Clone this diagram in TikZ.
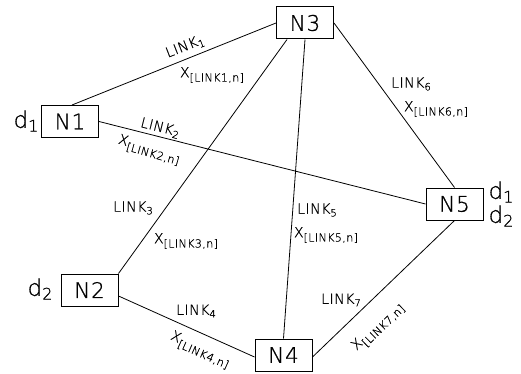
\documentclass[tikz,border=0pt]{standalone}
\usepackage{fontspec}
\setsansfont{DejaVu Sans ExtraLight}[LetterSpace=4,FakeBold=0.8]
\usetikzlibrary{calc}
\newcommand{\lnk}[1]{LINK\raisebox{-0.35ex}{\fontsize{10}{10}\selectfont #1}}
\newcommand{\xv}[1]{X\raisebox{-0.55ex}{\fontsize{11}{11}\selectfont [LINK#1,n]}}
\newcommand{\dv}[1]{d\raisebox{-0.3ex}{\fontsize{16}{16}\selectfont #1}}
\begin{document}
\begin{tikzpicture}[x=1pt,y=-1pt,font=\sffamily,
  netnode/.style={draw,line width=1pt,minimum width=57pt,minimum height=32pt,inner sep=0pt,
    font=\sffamily\fontsize{21.5}{21.5}\selectfont},
  link/.style={line width=0.8pt},
  lbl/.style={inner sep=0pt,font=\sffamily\fontsize{14}{14}\selectfont},
  xlbl/.style={inner sep=0pt,font=\sffamily\fontsize{14}{14}\selectfont},
  dlbl/.style={inner sep=0pt,font=\sffamily\fontsize{23}{23}\selectfont}]
\useasboundingbox (0,0) rectangle (521,374);
% nodes
\node[netnode] (n1) at (70,121.5) {N1};
\node[netnode] (n3) at (305,23) {N3};
\node[netnode] (n2) at (89.5,290) {N2};
\node[netnode] (n4) at (283.5,355) {N4};
\node[netnode] (n5) at (454.5,204) {N5};
% demands
\node[dlbl] (d1a) at (26,121) {\dv{1}};
\node[dlbl] (d2a) at (40,289) {\dv{2}};
\node[dlbl] (d1b) at (501,192) {\dv{1}};
\node[dlbl] (d2b) at (501,216) {\dv{2}};
% links
\draw[link] ($(n1.north)+(2,0)$) -- (n3.west);
\draw[link] (n1.east) -- (n5.west);
\draw[link] ($(n3.south)+(-18,0)$) -- (n2.north east);
\draw[link] (n3.south) -- (n4.north);
\draw[link] (n3.east) -- (n5.north);
\draw[link] ($(n2.east)+(0,6)$) -- ($(n4.west)+(0,2)$);
\draw[link] (n5.south) -- ($(n4.east)+(0,2)$);
% link labels
\node[lbl,rotate=21.5] (l1) at (185,47) {\lnk{1}};
\node[xlbl] (x1) at (212,75) {\xv{1}};
\node[lbl,rotate=-14] (l2) at (160,128) {\lnk{2}};
\node[xlbl,rotate=-16] (x2) at (149,150) {\xv{2}};
\node[lbl] (l3) at (133,208) {\lnk{3}};
\node[xlbl] (x3) at (186,241) {\xv{3}};
\node[lbl] (l4) at (196,311) {\lnk{4}};
\node[xlbl,rotate=-24] (x4) at (200,350) {\xv{4}};
\node[lbl] (l5) at (317,210) {\lnk{5}};
\node[xlbl] (x5) at (326,235) {\xv{5}};
\node[lbl] (l6) at (411,84) {\lnk{6}};
\node[xlbl] (x6) at (436,109) {\xv{6}};
\node[lbl] (l7) at (341,300) {\lnk{7}};
\node[xlbl,rotate=44] (x7) at (378,327) {\xv{7}};
\end{tikzpicture}
\end{document}
